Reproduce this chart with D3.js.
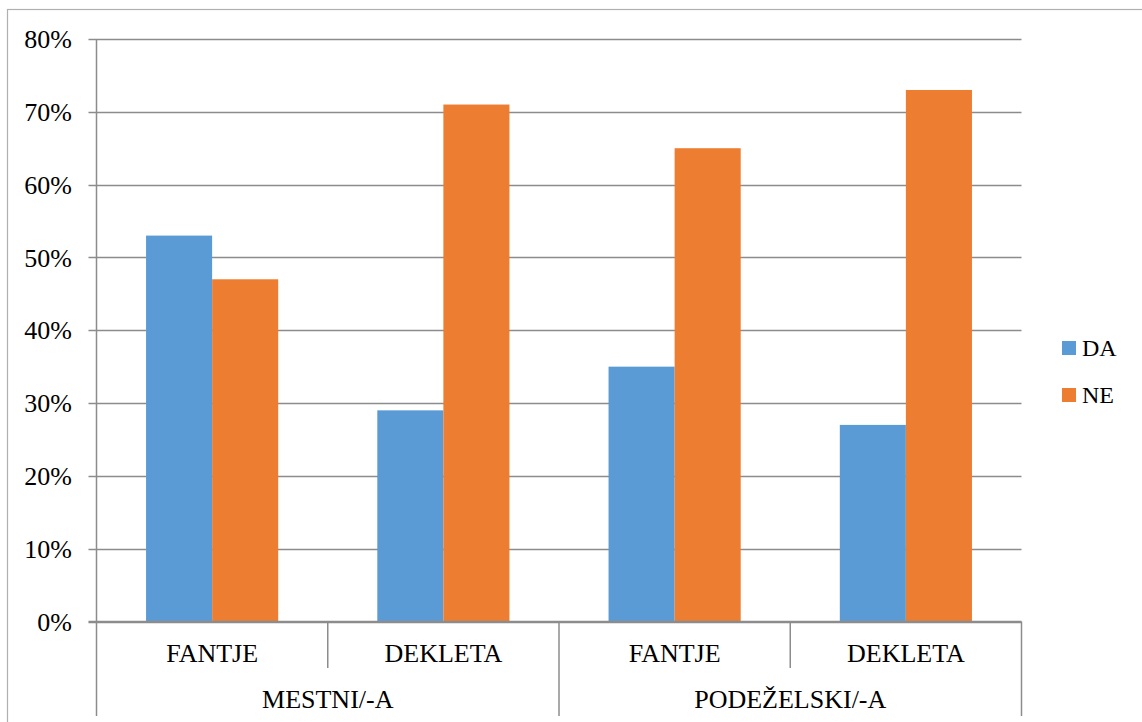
<!DOCTYPE html>
<html><head><meta charset="utf-8">
<script src="https://cdn.jsdelivr.net/npm/d3@7"></script>
<style>body{margin:0;background:#fff;}svg{display:block;}
svg text{font-family:"Liberation Serif","Times New Roman",Times,serif;}</style>
</head><body>
<script>
const subCategories = ["FANTJE", "DEKLETA", "FANTJE", "DEKLETA"];
const groupLabels = ["MESTNI/-A", "PODEŽELSKI/-A"];
const seriesNames = ["DA", "NE"];
const daValues = [0.53, 0.29, 0.35, 0.27];
const neValues = [0.47, 0.71, 0.65, 0.73];
const yTicks = [0, 0.1, 0.2, 0.3, 0.4, 0.5, 0.6, 0.7, 0.8];
const colors = ["#5B9BD5", "#ED7D31"];

(function () {
const W = 1142, H = 722;
const mLeft = 96.5, mRight = 1021.5, mTop = 39, mBottom = 621.5;

const svg = d3.select("body").append("svg").attr("width", W).attr("height", H);
svg.append("rect").attr("x", 7.5).attr("y", 9.5).attr("width", W + 20).attr("height", H + 20)
  .attr("fill", "#fff").attr("stroke", "#b0b0b0").attr("stroke-width", 1.2);

const y = d3.scaleLinear().domain([0, 0.8]).range([mBottom, mTop]);
const idx = d3.range(subCategories.length);
const x0 = d3.scaleBand().domain(idx).range([mLeft, mRight]).padding(0);
const x1 = d3.scaleBand().domain(seriesNames).range([0, x0.bandwidth()]).paddingInner(0).paddingOuter(0.75);

const gridColor = "#8c8c8c";
svg.append("g").selectAll("line").data(yTicks).join("line")
  .attr("x1", mLeft - 8).attr("x2", mRight)
  .attr("y1", d => Math.round(y(d)) + 0.5).attr("y2", d => Math.round(y(d)) + 0.5)
  .attr("stroke", gridColor).attr("stroke-width", 1.5);
svg.append("g").selectAll("text").data(yTicks).join("text")
  .attr("x", 72).attr("y", d => y(d)).attr("dy", "0.35em").attr("text-anchor", "end")
  .attr("font-size", 26).attr("fill", "#000")
  .text(d => d3.format(".0%")(d));

const series = [daValues, neValues];
series.forEach((vals, si) => {
  svg.append("g").selectAll("rect").data(vals).join("rect")
    .attr("x", (d, i) => x0(i) + x1(seriesNames[si]))
    .attr("width", x1.bandwidth())
    .attr("y", d => y(d)).attr("height", d => mBottom - y(d))
    .attr("fill", colors[si]);
});

svg.append("line").attr("x1", mLeft).attr("x2", mLeft).attr("y1", mTop).attr("y2", mBottom)
  .attr("stroke", gridColor).attr("stroke-width", 1.5);
svg.append("line").attr("x1", mLeft - 8).attr("x2", mRight).attr("y1", mBottom).attr("y2", mBottom)
  .attr("stroke", gridColor).attr("stroke-width", 1.5);

const sepX = d3.range(subCategories.length + 1).map(i => i < subCategories.length ? x0(i) : mRight);
svg.append("g").selectAll("line").data(sepX).join("line")
  .attr("x1", d => d).attr("x2", d => d).attr("y1", mBottom)
  .attr("y2", (d, i) => (i % 2 === 0) ? 716 : 668)
  .attr("stroke", gridColor).attr("stroke-width", 1.5);

svg.append("g").selectAll("text").data(subCategories).join("text")
  .attr("x", (d, i) => x0(i) + x0.bandwidth() / 2).attr("y", 662)
  .attr("text-anchor", "middle").attr("font-size", 26)
  .text(d => d);
svg.append("g").selectAll("text").data(groupLabels).join("text")
  .attr("x", (d, i) => x0(i * 2) + x0.bandwidth()).attr("y", 708)
  .attr("text-anchor", "middle").attr("font-size", 26)
  .text(d => d);

const lg = svg.append("g").selectAll("g").data(seriesNames).join("g")
  .attr("transform", (d, i) => `translate(1062, ${341 + i * 47})`);
lg.append("rect").attr("width", 14).attr("height", 14).attr("fill", (d, i) => colors[i]);
lg.append("text").attr("x", 20).attr("y", 15).attr("font-size", 24)
  .text(d => d);
})();
</script>
</body></html>
